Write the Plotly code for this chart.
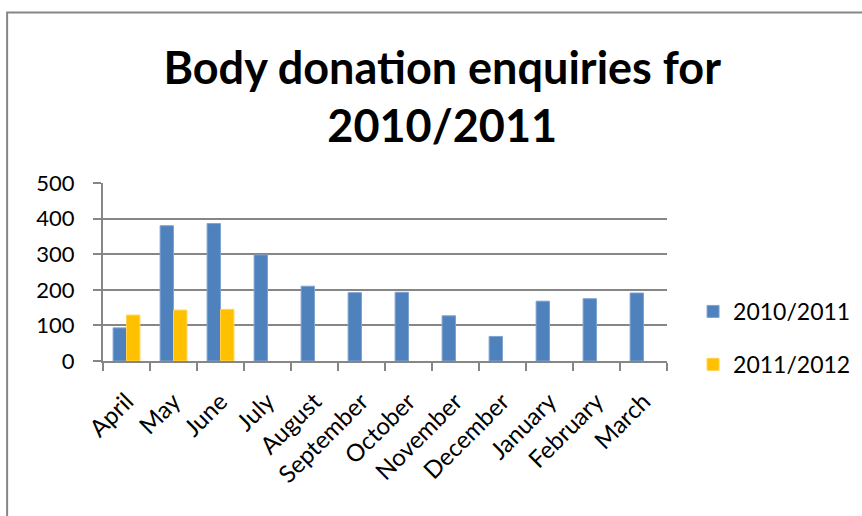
import plotly.graph_objects as go

months = ["April", "May", "June", "July", "August", "September", "October",
          "November", "December", "January", "February", "March"]
enquiries_2010_11 = [93, 380, 386, 298, 210, 192, 193, 127, 69, 168, 175, 191]
enquiries_2011_12 = [129, 143, 145, None, None, None, None, None, None, None, None, None]

BLUE = "#4F81BD"
GOLD = "#FFC000"
GREY = "#868686"
FONT = "Lato"

fig = go.Figure()
fig.add_trace(go.Bar(x=months, y=enquiries_2010_11, name="2010/2011",
                     marker=dict(color=BLUE, line=dict(color="#7FA3D1", width=1)),
                     legendgroup="a"))
fig.add_trace(go.Bar(x=months, y=enquiries_2011_12, name="2011/2012",
                     marker=dict(color=GOLD, line=dict(color="#FFD24D", width=1)),
                     legendgroup="b"))

# Outer chart-area border
fig.add_shape(type="rect", xref="paper", yref="paper",
              x0=-0.17, x1=1.5, y0=-1.5, y1=1.958,
              line=dict(color=GREY, width=2), fillcolor="rgba(0,0,0,0)", layer="below")

fig.update_layout(
    width=862, height=516,
    margin=dict(l=103, r=195, t=183, b=155),
    paper_bgcolor="white", plot_bgcolor="white",
    font=dict(family=FONT, size=23, color="black"),
    title=dict(text="<b>Body donation enquiries for<br>2010/2011</b>",
               x=0.513, xanchor="center",
               y=0.838, yanchor="top", xref="container", yref="container",
               font=dict(family=FONT, size=45, color="black")),
    barmode="group", bargap=0.43, bargroupgap=0,
    showlegend=True,
    legend=dict(xref="container", yref="container", x=0.804, y=0.345,
                xanchor="left", yanchor="middle",
                font=dict(size=23), tracegroupgap=20, traceorder="grouped",
                bgcolor="rgba(0,0,0,0)"),
)
fig.update_xaxes(type="category", tickson="boundaries", ticks="outside", ticklen=8,
                 tickcolor=GREY, tickwidth=2, showline=True, linecolor=GREY, linewidth=2,
                 showgrid=False, tickangle=-45, tickfont=dict(size=24),
                 ticklabelstandoff=15)
fig.update_yaxes(range=[0, 500], dtick=100, ticks="outside", ticklen=8, tickcolor=GREY,
                 tickwidth=2, showline=True, linecolor=GREY, linewidth=2,
                 showgrid=True, gridcolor=GREY, gridwidth=2, zeroline=False,
                 tickfont=dict(size=22), ticklabelstandoff=14)

fig.write_html("out.html")
